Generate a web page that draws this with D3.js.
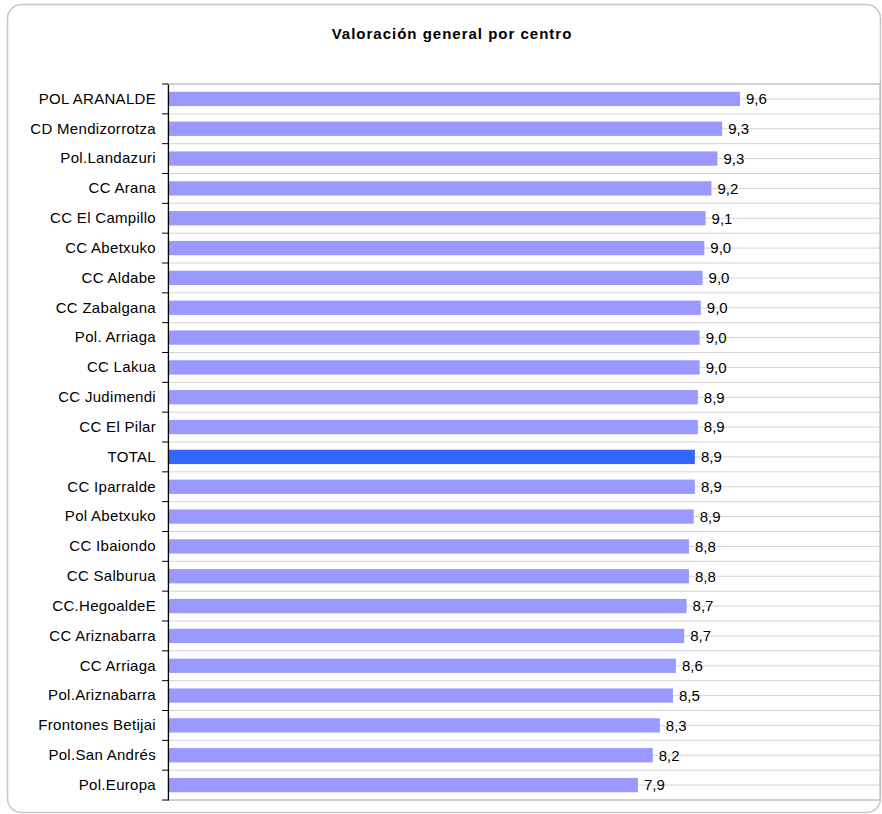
<!DOCTYPE html>
<html>
<head>
<meta charset="utf-8">
<script src="https://cdn.jsdelivr.net/npm/d3@7"></script>
<style>
  html, body { margin: 0; padding: 0; background: #fff; }
  svg { display: block; }
  text { font-family: "Liberation Sans", Arial, sans-serif; }
</style>
</head>
<body>
<svg id="chart" width="882" height="814"></svg>
<script>
const categories = [
  "POL ARANALDE", "CD Mendizorrotza", "Pol.Landazuri", "CC Arana", "CC El Campillo",
  "CC Abetxuko", "CC Aldabe", "CC Zabalgana", "Pol. Arriaga", "CC Lakua",
  "CC Judimendi", "CC El Pilar", "TOTAL", "CC Iparralde", "Pol Abetxuko",
  "CC Ibaiondo", "CC Salburua", "CC.HegoaldeE", "CC Ariznabarra", "CC Arriaga",
  "Pol.Ariznabarra", "Frontones Betijai", "Pol.San Andrés", "Pol.Europa"
];
const values = [
  9.64, 9.34, 9.26, 9.16, 9.06,
  9.04, 9.01, 8.98, 8.96, 8.96,
  8.93, 8.93, 8.88, 8.88, 8.86,
  8.78, 8.78, 8.74, 8.70, 8.56,
  8.51, 8.29, 8.17, 7.92
];
const highlight = "TOTAL";
const title = "Valoración general por centro";
const valueDomain = [0, 12];

const svg = d3.select("#chart");

// outer frame
svg.append("rect")
  .attr("x", 7.5).attr("y", 4.5)
  .attr("width", 873).attr("height", 808)
  .attr("rx", 14).attr("ry", 14)
  .attr("fill", "#fff")
  .attr("stroke", "#c8c8c8")
  .attr("stroke-width", 1.5);

const plot = { left: 168, top: 84, right: 880, bottom: 800 };

const x = d3.scaleLinear().domain(valueDomain).range([plot.left, plot.right]);
const y = d3.scaleBand().domain(categories).range([plot.top, plot.bottom]).paddingInner(0.52).paddingOuter(0.26);
const yFull = d3.scaleBand().domain(categories).range([plot.top, plot.bottom]);

// gridlines (category boundaries and centres)
const gridPos = [];
categories.forEach(c => {
  gridPos.push(yFull(c));
  gridPos.push(yFull(c) + yFull.bandwidth() / 2);
});
gridPos.push(plot.bottom);
svg.append("g").selectAll("line").data(gridPos).join("line")
  .attr("x1", plot.left).attr("x2", plot.right)
  .attr("y1", d => d).attr("y2", d => d)
  .attr("stroke", "#d4d4d4").attr("stroke-width", 1);

// plot border
svg.append("rect")
  .attr("x", plot.left).attr("y", plot.top)
  .attr("width", plot.right - plot.left).attr("height", plot.bottom - plot.top)
  .attr("fill", "none").attr("stroke", "#c0c0c0").attr("stroke-width", 1.2);

// bars
svg.append("g").selectAll("rect").data(categories).join("rect")
  .attr("x", x(0))
  .attr("y", (c) => y(c))
  .attr("height", y.bandwidth())
  .attr("width", (c, i) => x(values[i]) - x(0))
  .attr("fill", c => c === highlight ? "#3366ff" : "#9999ff");

// value labels
svg.append("g").selectAll("text").data(categories).join("text")
  .attr("x", (c, i) => x(values[i]) + 6)
  .attr("y", c => yFull(c) + yFull.bandwidth() / 2)
  .attr("dy", "0.35em")
  .attr("font-size", 15)
  .attr("fill", "#000")
  .text((c, i) => d3.format(".1f")(values[i]).replace(".", ","));

// category axis
const axis = d3.axisLeft(yFull).tickSize(0).tickPadding(12);
const gAxis = svg.append("g").attr("transform", `translate(${plot.left},0)`).call(axis);
gAxis.select(".domain").attr("stroke", "#000").attr("stroke-width", 1.2);
gAxis.selectAll("text")
  .attr("font-size", 15)
  .attr("letter-spacing", "0.3px")
  .attr("font-family", "'Liberation Sans', Arial, sans-serif")
  .attr("fill", "#000");
// tick marks at category boundaries
const bounds = categories.map(c => yFull(c)).concat([plot.bottom]);
svg.append("g").selectAll("line").data(bounds).join("line")
  .attr("x1", plot.left - 6).attr("x2", plot.left)
  .attr("y1", d => d).attr("y2", d => d)
  .attr("stroke", "#000").attr("stroke-width", 1);

// title
svg.append("text")
  .attr("x", 452).attr("y", 39)
  .attr("text-anchor", "middle")
  .attr("font-size", 15)
  .attr("font-weight", "bold")
  .attr("letter-spacing", "1px")
  .attr("fill", "#000")
  .text(title);
</script>
</body>
</html>
